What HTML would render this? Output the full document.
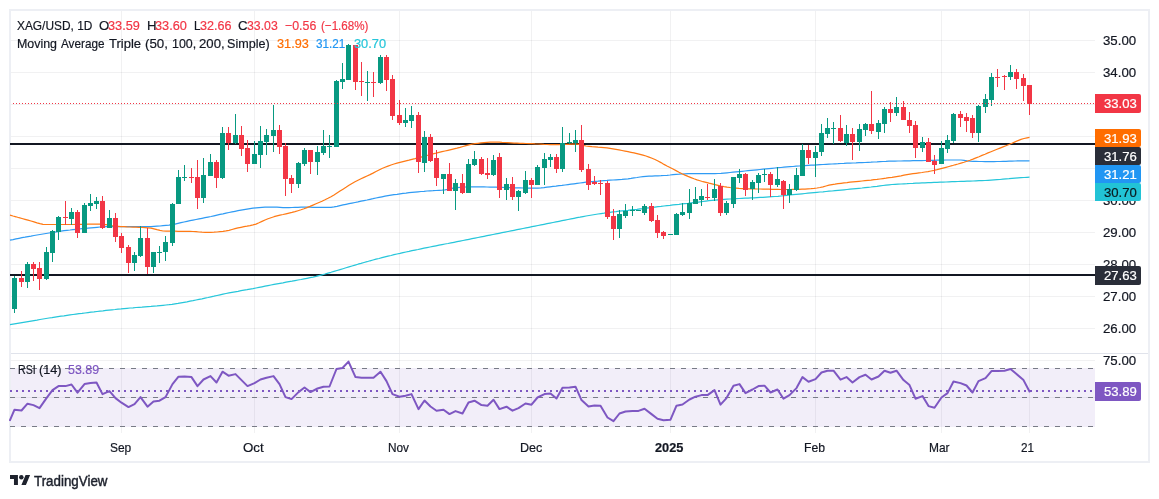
<!DOCTYPE html>
<html><head><meta charset="utf-8"><title>XAG/USD chart</title>
<style>
html,body{margin:0;padding:0;background:#fff}
body{width:1159px;height:499px;position:relative;overflow:hidden;font-family:"Liberation Sans",sans-serif;color:#131722}
#frame{position:absolute;left:9px;top:9px;width:1137px;height:450px;border:2px solid #edeff4}
svg{position:absolute;left:0;top:0}
.bx{position:absolute;left:1095px;width:46px;border-radius:0 2px 2px 0}
.t{position:absolute;display:block;font-size:13px;line-height:20px;white-space:pre;transform-origin:0 0;-webkit-text-stroke:0.2px currentColor}
</style></head><body>
<div id="frame"></div>
<svg width="1159" height="499" viewBox="0 0 1159 499">
<g shape-rendering="crispEdges">
<rect x="121" y="11" width="1" height="342" fill="#2a2e39" fill-opacity="0.065"/>
<rect x="254" y="11" width="1" height="342" fill="#2a2e39" fill-opacity="0.065"/>
<rect x="399" y="11" width="1" height="342" fill="#2a2e39" fill-opacity="0.065"/>
<rect x="531" y="11" width="1" height="342" fill="#2a2e39" fill-opacity="0.065"/>
<rect x="670" y="11" width="1" height="342" fill="#2a2e39" fill-opacity="0.065"/>
<rect x="815" y="11" width="1" height="342" fill="#2a2e39" fill-opacity="0.065"/>
<rect x="941" y="11" width="1" height="342" fill="#2a2e39" fill-opacity="0.065"/>
<rect x="1029" y="11" width="1" height="342" fill="#2a2e39" fill-opacity="0.065"/>
<rect x="11" y="40" width="1084" height="1" fill="#2a2e39" fill-opacity="0.065"/>
<rect x="11" y="72" width="1084" height="1" fill="#2a2e39" fill-opacity="0.065"/>
<rect x="11" y="104" width="1084" height="1" fill="#2a2e39" fill-opacity="0.065"/>
<rect x="11" y="136" width="1084" height="1" fill="#2a2e39" fill-opacity="0.065"/>
<rect x="11" y="168" width="1084" height="1" fill="#2a2e39" fill-opacity="0.065"/>
<rect x="11" y="200" width="1084" height="1" fill="#2a2e39" fill-opacity="0.065"/>
<rect x="11" y="232" width="1084" height="1" fill="#2a2e39" fill-opacity="0.065"/>
<rect x="11" y="264" width="1084" height="1" fill="#2a2e39" fill-opacity="0.065"/>
<rect x="11" y="296" width="1084" height="1" fill="#2a2e39" fill-opacity="0.065"/>
<rect x="11" y="328" width="1084" height="1" fill="#2a2e39" fill-opacity="0.065"/>
<rect x="121" y="354" width="1" height="79" fill="#2a2e39" fill-opacity="0.065"/>
<rect x="254" y="354" width="1" height="79" fill="#2a2e39" fill-opacity="0.065"/>
<rect x="399" y="354" width="1" height="79" fill="#2a2e39" fill-opacity="0.065"/>
<rect x="531" y="354" width="1" height="79" fill="#2a2e39" fill-opacity="0.065"/>
<rect x="670" y="354" width="1" height="79" fill="#2a2e39" fill-opacity="0.065"/>
<rect x="815" y="354" width="1" height="79" fill="#2a2e39" fill-opacity="0.065"/>
<rect x="941" y="354" width="1" height="79" fill="#2a2e39" fill-opacity="0.065"/>
<rect x="1029" y="354" width="1" height="79" fill="#2a2e39" fill-opacity="0.065"/>
<rect x="11" y="360" width="1084" height="1" fill="#2a2e39" fill-opacity="0.065"/>
<rect x="11" y="397" width="1084" height="1" fill="#2a2e39" fill-opacity="0.065"/>
<rect x="11" y="368" width="1084" height="59" fill="#7e57c2" fill-opacity="0.1"/>
<rect x="11" y="353" width="1137" height="1" fill="#e0e3eb"/>
</g>
<line x1="10" y1="368.5" x2="1095" y2="368.5" stroke="#787b86" stroke-width="1" stroke-dasharray="5 6" shape-rendering="crispEdges"/>
<line x1="10" y1="397.5" x2="1095" y2="397.5" stroke="#787b86" stroke-width="1" stroke-dasharray="5 6" shape-rendering="crispEdges"/>
<line x1="10" y1="426.5" x2="1095" y2="426.5" stroke="#787b86" stroke-width="1" stroke-dasharray="5 6" shape-rendering="crispEdges"/>
<rect x="10" y="143" width="1085" height="2" fill="#131722" shape-rendering="crispEdges"/>
<rect x="10" y="274" width="1085" height="2" fill="#131722" shape-rendering="crispEdges"/>
<path d="M10.0 324.6 L13.0 324.1 L16.0 323.6 L19.0 323.1 L22.0 322.6 L25.0 322.1 L28.0 321.6 L31.0 321.1 L34.0 320.6 L37.0 320.1 L40.0 319.5 L43.0 319.0 L46.0 318.5 L49.0 318.0 L52.0 317.6 L55.0 317.1 L58.0 316.6 L61.0 316.2 L64.0 315.8 L67.0 315.3 L70.0 314.9 L73.0 314.5 L76.0 314.1 L79.0 313.7 L82.0 313.4 L85.0 313.0 L88.0 312.6 L91.0 312.2 L94.0 311.9 L97.0 311.5 L100.0 311.1 L103.0 310.8 L106.0 310.4 L109.0 310.1 L112.0 309.8 L115.0 309.5 L118.0 309.1 L121.0 308.9 L124.0 308.6 L127.0 308.3 L130.0 308.0 L133.0 307.8 L136.0 307.5 L139.0 307.3 L142.0 307.1 L145.0 306.8 L148.0 306.6 L151.0 306.4 L154.0 306.1 L157.0 305.9 L160.0 305.6 L163.0 305.3 L166.0 305.0 L169.0 304.7 L172.0 304.3 L175.0 303.8 L178.0 303.4 L181.0 302.8 L184.0 302.3 L187.0 301.8 L190.0 301.2 L193.0 300.7 L196.0 300.0 L199.0 299.4 L202.0 298.8 L205.0 298.1 L208.0 297.5 L211.0 296.8 L214.0 296.2 L217.0 295.5 L220.0 294.8 L223.0 294.1 L226.0 293.5 L229.0 292.9 L232.0 292.3 L235.0 291.8 L238.0 291.3 L241.0 290.7 L244.0 290.2 L247.0 289.7 L250.0 289.1 L253.0 288.6 L256.0 288.0 L259.0 287.4 L262.0 286.8 L265.0 286.2 L268.0 285.6 L271.0 285.0 L274.0 284.4 L277.0 283.8 L280.0 283.3 L283.0 282.8 L286.0 282.2 L289.0 281.7 L292.0 281.2 L295.0 280.6 L298.0 280.0 L301.0 279.5 L304.0 278.9 L307.0 278.3 L310.0 277.7 L313.0 277.1 L316.0 276.4 L319.0 275.6 L322.0 274.8 L325.0 274.0 L328.0 273.1 L331.0 272.3 L334.0 271.4 L337.0 270.5 L340.0 269.6 L343.0 268.7 L346.0 267.8 L349.0 266.9 L352.0 266.0 L355.0 265.1 L358.0 264.2 L361.0 263.4 L364.0 262.5 L367.0 261.7 L370.0 260.8 L373.0 260.0 L376.0 259.2 L379.0 258.5 L382.0 257.7 L385.0 256.9 L388.0 256.2 L391.0 255.5 L394.0 254.7 L397.0 254.0 L400.0 253.4 L403.0 252.7 L406.0 252.0 L409.0 251.4 L412.0 250.7 L415.0 250.1 L418.0 249.5 L421.0 248.8 L424.0 248.2 L427.0 247.6 L430.0 247.0 L433.0 246.4 L436.0 245.8 L439.0 245.2 L442.0 244.6 L445.0 244.0 L448.0 243.5 L451.0 242.9 L454.0 242.3 L457.0 241.7 L460.0 241.1 L463.0 240.5 L466.0 239.9 L469.0 239.3 L472.0 238.7 L475.0 238.1 L478.0 237.5 L481.0 236.9 L484.0 236.3 L487.0 235.7 L490.0 235.1 L493.0 234.5 L496.0 233.9 L499.0 233.3 L502.0 232.7 L505.0 232.1 L508.0 231.5 L511.0 230.9 L514.0 230.3 L517.0 229.7 L520.0 229.1 L523.0 228.5 L526.0 227.9 L529.0 227.3 L532.0 226.7 L535.0 226.1 L538.0 225.5 L541.0 224.9 L544.0 224.3 L547.0 223.7 L550.0 223.1 L553.0 222.5 L556.0 221.9 L559.0 221.3 L562.0 220.7 L565.0 220.1 L568.0 219.5 L571.0 218.9 L574.0 218.3 L577.0 217.7 L580.0 217.2 L583.0 216.6 L586.0 216.0 L589.0 215.5 L592.0 215.0 L595.0 214.5 L598.0 214.0 L601.0 213.6 L604.0 213.2 L607.0 212.7 L610.0 212.3 L613.0 211.9 L616.0 211.6 L619.0 211.2 L622.0 210.9 L625.0 210.6 L628.0 210.3 L631.0 209.9 L634.0 209.6 L637.0 209.3 L640.0 208.9 L643.0 208.6 L646.0 208.2 L649.0 207.8 L652.0 207.5 L655.0 207.1 L658.0 206.7 L661.0 206.4 L664.0 206.0 L667.0 205.6 L670.0 205.3 L673.0 204.9 L676.0 204.6 L679.0 204.3 L682.0 203.9 L685.0 203.6 L688.0 203.3 L691.0 202.9 L694.0 202.6 L697.0 202.3 L700.0 201.9 L703.0 201.5 L706.0 201.1 L709.0 200.7 L712.0 200.4 L715.0 200.1 L718.0 199.8 L721.0 199.6 L724.0 199.4 L727.0 199.2 L730.0 199.0 L733.0 198.8 L736.0 198.6 L739.0 198.5 L742.0 198.3 L745.0 198.2 L748.0 198.1 L751.0 197.9 L754.0 197.8 L757.0 197.6 L760.0 197.4 L763.0 197.3 L766.0 197.1 L769.0 196.9 L772.0 196.7 L775.0 196.5 L778.0 196.3 L781.0 196.0 L784.0 195.7 L787.0 195.3 L790.0 195.0 L793.0 194.7 L796.0 194.4 L799.0 194.1 L802.0 193.8 L805.0 193.5 L808.0 193.2 L811.0 192.9 L814.0 192.6 L817.0 192.3 L820.0 192.0 L823.0 191.8 L826.0 191.5 L829.0 191.2 L832.0 191.0 L835.0 190.7 L838.0 190.4 L841.0 190.1 L844.0 189.8 L847.0 189.5 L850.0 189.2 L853.0 188.9 L856.0 188.6 L859.0 188.3 L862.0 188.0 L865.0 187.6 L868.0 187.3 L871.0 187.0 L874.0 186.6 L877.0 186.3 L880.0 185.9 L883.0 185.5 L886.0 185.1 L889.0 184.8 L892.0 184.5 L895.0 184.3 L898.0 184.1 L901.0 184.0 L904.0 183.8 L907.0 183.7 L910.0 183.5 L913.0 183.4 L916.0 183.2 L919.0 183.1 L922.0 182.9 L925.0 182.8 L928.0 182.7 L931.0 182.6 L934.0 182.4 L937.0 182.3 L940.0 182.2 L943.0 182.1 L946.0 182.0 L949.0 181.8 L952.0 181.7 L955.0 181.6 L958.0 181.5 L961.0 181.4 L964.0 181.3 L967.0 181.2 L970.0 181.1 L973.0 181.0 L976.0 180.8 L979.0 180.7 L982.0 180.6 L985.0 180.5 L988.0 180.3 L991.0 180.1 L994.0 179.9 L997.0 179.7 L1000.0 179.5 L1003.0 179.2 L1006.0 178.9 L1009.0 178.7 L1012.0 178.4 L1015.0 178.1 L1018.0 177.9 L1021.0 177.7 L1024.0 177.5 L1027.0 177.3 L1029.5 177.2" fill="none" stroke="#26c6da" stroke-width="1.2" stroke-linejoin="round"/>
<path d="M10.0 240.2 L13.0 239.6 L16.0 238.9 L19.0 238.3 L22.0 237.7 L25.0 237.2 L28.0 236.6 L31.0 236.1 L34.0 235.5 L37.0 235.0 L40.0 234.5 L43.0 234.0 L46.0 233.5 L49.0 233.0 L52.0 232.6 L55.0 232.1 L58.0 231.6 L61.0 231.1 L64.0 230.7 L67.0 230.3 L70.0 230.0 L73.0 229.6 L76.0 229.3 L79.0 229.0 L82.0 228.7 L85.0 228.5 L88.0 228.2 L91.0 227.9 L94.0 227.6 L97.0 227.3 L100.0 227.0 L103.0 226.8 L106.0 226.6 L109.0 226.6 L112.0 226.6 L115.0 226.6 L118.0 226.6 L121.0 226.6 L124.0 226.6 L127.0 226.6 L130.0 226.6 L133.0 226.6 L136.0 226.6 L139.0 226.6 L142.0 226.6 L145.0 226.6 L148.0 226.6 L151.0 226.6 L154.0 226.4 L157.0 226.2 L160.0 226.0 L163.0 225.7 L166.0 225.4 L169.0 225.1 L172.0 224.6 L175.0 224.1 L178.0 223.4 L181.0 222.7 L184.0 222.0 L187.0 221.3 L190.0 220.7 L193.0 220.1 L196.0 219.5 L199.0 218.9 L202.0 218.3 L205.0 217.7 L208.0 217.1 L211.0 216.5 L214.0 215.8 L217.0 215.1 L220.0 214.4 L223.0 213.8 L226.0 213.1 L229.0 212.5 L232.0 211.9 L235.0 211.3 L238.0 210.7 L241.0 210.1 L244.0 209.6 L247.0 209.1 L250.0 208.6 L253.0 208.2 L256.0 207.9 L259.0 207.6 L262.0 207.4 L265.0 207.2 L268.0 207.1 L271.0 207.0 L274.0 207.1 L277.0 207.2 L280.0 207.4 L283.0 207.6 L286.0 207.6 L289.0 207.6 L292.0 207.5 L295.0 207.4 L298.0 207.3 L301.0 207.2 L304.0 207.2 L307.0 207.2 L310.0 207.2 L313.0 207.3 L316.0 207.3 L319.0 207.3 L322.0 207.4 L325.0 207.4 L328.0 207.4 L331.0 207.3 L334.0 206.9 L337.0 206.3 L340.0 205.6 L343.0 204.9 L346.0 204.3 L349.0 203.7 L352.0 203.1 L355.0 202.5 L358.0 201.9 L361.0 201.2 L364.0 200.6 L367.0 200.0 L370.0 199.3 L373.0 198.7 L376.0 198.0 L379.0 197.4 L382.0 196.8 L385.0 196.2 L388.0 195.7 L391.0 195.2 L394.0 194.7 L397.0 194.3 L400.0 193.8 L403.0 193.4 L406.0 193.1 L409.0 192.7 L412.0 192.4 L415.0 192.1 L418.0 191.8 L421.0 191.5 L424.0 191.3 L427.0 191.0 L430.0 190.8 L433.0 190.7 L436.0 190.5 L439.0 190.3 L442.0 190.1 L445.0 189.8 L448.0 189.4 L451.0 188.7 L454.0 187.9 L457.0 187.6 L460.0 187.4 L463.0 187.2 L466.0 187.0 L469.0 186.9 L472.0 186.8 L475.0 186.8 L478.0 186.8 L481.0 186.9 L484.0 186.9 L487.0 187.0 L490.0 187.1 L493.0 187.1 L496.0 187.2 L499.0 187.3 L502.0 187.4 L505.0 187.5 L508.0 187.6 L511.0 187.7 L514.0 187.8 L517.0 187.9 L520.0 187.9 L523.0 188.0 L526.0 188.1 L529.0 188.1 L532.0 188.2 L535.0 188.2 L538.0 188.1 L541.0 187.9 L544.0 187.6 L547.0 187.2 L550.0 186.8 L553.0 186.4 L556.0 186.1 L559.0 185.7 L562.0 185.4 L565.0 185.0 L568.0 184.6 L571.0 184.2 L574.0 183.8 L577.0 183.4 L580.0 183.0 L583.0 182.6 L586.0 182.2 L589.0 181.9 L592.0 181.6 L595.0 181.3 L598.0 181.1 L601.0 180.8 L604.0 180.6 L607.0 180.4 L610.0 180.1 L613.0 180.0 L616.0 179.8 L619.0 179.6 L622.0 179.4 L625.0 179.1 L628.0 178.8 L631.0 178.4 L634.0 177.9 L637.0 177.5 L640.0 177.0 L643.0 176.7 L646.0 176.4 L649.0 176.2 L652.0 176.1 L655.0 175.9 L658.0 175.8 L661.0 175.7 L664.0 175.5 L667.0 175.3 L670.0 175.0 L673.0 174.6 L676.0 174.3 L679.0 174.2 L682.0 174.0 L685.0 173.8 L688.0 173.7 L691.0 173.6 L694.0 173.6 L697.0 173.6 L700.0 173.6 L703.0 173.6 L706.0 173.6 L709.0 173.6 L712.0 173.6 L715.0 173.6 L718.0 173.5 L721.0 173.4 L724.0 173.1 L727.0 172.8 L730.0 172.5 L733.0 172.2 L736.0 171.9 L739.0 171.6 L742.0 171.3 L745.0 171.0 L748.0 170.7 L751.0 170.4 L754.0 170.1 L757.0 169.8 L760.0 169.5 L763.0 169.2 L766.0 168.9 L769.0 168.6 L772.0 168.3 L775.0 168.0 L778.0 167.7 L781.0 167.5 L784.0 167.2 L787.0 166.9 L790.0 166.7 L793.0 166.5 L796.0 166.2 L799.0 166.0 L802.0 165.8 L805.0 165.6 L808.0 165.4 L811.0 165.2 L814.0 165.1 L817.0 164.9 L820.0 164.7 L823.0 164.5 L826.0 164.3 L829.0 164.1 L832.0 164.0 L835.0 163.8 L838.0 163.7 L841.0 163.5 L844.0 163.4 L847.0 163.2 L850.0 163.1 L853.0 163.0 L856.0 162.9 L859.0 162.7 L862.0 162.6 L865.0 162.5 L868.0 162.3 L871.0 162.2 L874.0 162.0 L877.0 161.9 L880.0 161.7 L883.0 161.5 L886.0 161.4 L889.0 161.2 L892.0 161.1 L895.0 161.1 L898.0 161.0 L901.0 161.0 L904.0 160.9 L907.0 160.9 L910.0 160.8 L913.0 160.7 L916.0 160.7 L919.0 160.6 L922.0 160.6 L925.0 160.5 L928.0 160.4 L931.0 160.4 L934.0 160.3 L937.0 160.2 L940.0 160.2 L943.0 160.1 L946.0 160.0 L949.0 160.0 L952.0 160.0 L955.0 160.0 L958.0 160.0 L961.0 160.0 L964.0 160.4 L967.0 160.9 L970.0 161.2 L973.0 161.3 L976.0 161.4 L979.0 161.5 L982.0 161.5 L985.0 161.6 L988.0 161.6 L991.0 161.6 L994.0 161.6 L997.0 161.5 L1000.0 161.5 L1003.0 161.4 L1006.0 161.3 L1009.0 161.2 L1012.0 161.1 L1015.0 161.0 L1018.0 160.9 L1021.0 160.8 L1024.0 160.8 L1027.0 160.8 L1029.5 160.9" fill="none" stroke="#2f9bf4" stroke-width="1.2" stroke-linejoin="round"/>
<path d="M10.0 215.1 L13.0 216.0 L16.0 216.8 L19.0 217.7 L22.0 218.5 L25.0 219.3 L28.0 220.1 L31.0 221.0 L34.0 221.9 L37.0 222.9 L40.0 223.7 L43.0 224.3 L46.0 224.5 L49.0 224.5 L52.0 224.5 L55.0 224.5 L58.0 224.5 L61.0 224.5 L64.0 224.5 L67.0 224.5 L70.0 224.5 L73.0 224.5 L76.0 224.4 L79.0 224.4 L82.0 224.3 L85.0 224.3 L88.0 224.2 L91.0 224.2 L94.0 224.1 L97.0 224.1 L100.0 224.1 L103.0 224.4 L106.0 224.7 L109.0 225.1 L112.0 225.6 L115.0 226.0 L118.0 226.3 L121.0 226.6 L124.0 226.7 L127.0 226.9 L130.0 227.0 L133.0 227.1 L136.0 227.2 L139.0 227.3 L142.0 227.4 L145.0 227.6 L148.0 227.8 L151.0 228.2 L154.0 228.9 L157.0 229.7 L160.0 230.4 L163.0 231.0 L166.0 231.2 L169.0 231.2 L172.0 231.2 L175.0 231.2 L178.0 231.3 L181.0 231.3 L184.0 231.3 L187.0 231.3 L190.0 231.3 L193.0 231.5 L196.0 231.7 L199.0 232.0 L202.0 232.2 L205.0 232.3 L208.0 232.4 L211.0 232.3 L214.0 232.2 L217.0 232.0 L220.0 231.7 L223.0 231.4 L226.0 230.9 L229.0 230.3 L232.0 229.5 L235.0 228.7 L238.0 227.9 L241.0 227.3 L244.0 226.7 L247.0 226.2 L250.0 225.6 L253.0 224.9 L256.0 224.1 L259.0 222.8 L262.0 221.4 L265.0 220.0 L268.0 218.8 L271.0 217.7 L274.0 216.7 L277.0 215.9 L280.0 215.1 L283.0 214.5 L286.0 213.8 L289.0 213.1 L292.0 212.4 L295.0 211.6 L298.0 210.7 L301.0 209.8 L304.0 208.8 L307.0 207.6 L310.0 206.4 L313.0 205.1 L316.0 203.8 L319.0 202.5 L322.0 201.2 L325.0 199.8 L328.0 198.3 L331.0 196.7 L334.0 194.9 L337.0 193.0 L340.0 191.1 L343.0 189.2 L346.0 187.3 L349.0 185.3 L352.0 183.4 L355.0 181.7 L358.0 180.2 L361.0 178.8 L364.0 177.4 L367.0 176.0 L370.0 174.6 L373.0 173.1 L376.0 171.5 L379.0 170.0 L382.0 168.5 L385.0 167.3 L388.0 166.1 L391.0 165.0 L394.0 164.0 L397.0 163.1 L400.0 162.3 L403.0 161.6 L406.0 160.9 L409.0 160.2 L412.0 159.4 L415.0 158.7 L418.0 157.9 L421.0 157.1 L424.0 156.3 L427.0 155.5 L430.0 154.7 L433.0 153.9 L436.0 153.2 L439.0 152.4 L442.0 151.7 L445.0 151.0 L448.0 150.3 L451.0 149.6 L454.0 148.9 L457.0 148.2 L460.0 147.4 L463.0 146.5 L466.0 145.6 L469.0 144.9 L472.0 144.2 L475.0 143.7 L478.0 143.3 L481.0 142.9 L484.0 142.6 L487.0 142.3 L490.0 142.2 L493.0 142.1 L496.0 142.1 L499.0 142.2 L502.0 142.4 L505.0 142.5 L508.0 142.7 L511.0 142.9 L514.0 143.1 L517.0 143.2 L520.0 143.3 L523.0 143.4 L526.0 143.5 L529.0 143.6 L532.0 143.7 L535.0 143.9 L538.0 144.0 L541.0 144.2 L544.0 144.4 L547.0 144.5 L550.0 144.6 L553.0 144.7 L556.0 144.7 L559.0 144.6 L562.0 144.5 L565.0 144.4 L568.0 144.3 L571.0 144.2 L574.0 144.1 L577.0 144.2 L580.0 144.7 L583.0 145.4 L586.0 146.0 L589.0 146.3 L592.0 146.6 L595.0 146.8 L598.0 147.1 L601.0 147.3 L604.0 147.6 L607.0 147.9 L610.0 148.4 L613.0 148.9 L616.0 149.4 L619.0 149.9 L622.0 150.5 L625.0 151.1 L628.0 151.7 L631.0 152.3 L634.0 152.9 L637.0 153.6 L640.0 154.3 L643.0 155.1 L646.0 156.0 L649.0 157.1 L652.0 158.2 L655.0 159.5 L658.0 161.0 L661.0 162.6 L664.0 164.4 L667.0 166.0 L670.0 167.5 L673.0 169.0 L676.0 170.6 L679.0 172.2 L682.0 173.7 L685.0 175.1 L688.0 176.4 L691.0 177.6 L694.0 178.8 L697.0 179.9 L700.0 180.8 L703.0 181.7 L706.0 182.4 L709.0 183.2 L712.0 183.9 L715.0 184.6 L718.0 185.3 L721.0 186.0 L724.0 186.6 L727.0 187.1 L730.0 187.5 L733.0 187.8 L736.0 188.1 L739.0 188.4 L742.0 188.6 L745.0 188.7 L748.0 188.8 L751.0 188.9 L754.0 188.9 L757.0 189.0 L760.0 189.0 L763.0 189.1 L766.0 189.1 L769.0 189.2 L772.0 189.3 L775.0 189.3 L778.0 189.4 L781.0 189.5 L784.0 189.5 L787.0 189.5 L790.0 189.5 L793.0 189.4 L796.0 189.4 L799.0 189.3 L802.0 189.2 L805.0 189.1 L808.0 188.9 L811.0 188.7 L814.0 188.4 L817.0 188.0 L820.0 187.5 L823.0 186.8 L826.0 186.0 L829.0 185.2 L832.0 184.6 L835.0 184.2 L838.0 183.7 L841.0 183.3 L844.0 182.9 L847.0 182.6 L850.0 182.2 L853.0 181.9 L856.0 181.6 L859.0 181.3 L862.0 181.0 L865.0 180.7 L868.0 180.4 L871.0 180.1 L874.0 179.7 L877.0 179.4 L880.0 179.0 L883.0 178.6 L886.0 178.2 L889.0 177.7 L892.0 177.3 L895.0 176.8 L898.0 176.3 L901.0 175.8 L904.0 175.2 L907.0 174.7 L910.0 174.2 L913.0 173.7 L916.0 173.3 L919.0 172.9 L922.0 172.5 L925.0 172.0 L928.0 171.6 L931.0 171.0 L934.0 170.4 L937.0 169.7 L940.0 168.9 L943.0 168.1 L946.0 167.3 L949.0 166.5 L952.0 165.7 L955.0 164.8 L958.0 164.0 L961.0 163.1 L964.0 162.2 L967.0 161.2 L970.0 160.2 L973.0 159.1 L976.0 157.9 L979.0 156.7 L982.0 155.4 L985.0 154.2 L988.0 152.9 L991.0 151.7 L994.0 150.5 L997.0 149.3 L1000.0 148.1 L1003.0 146.9 L1006.0 145.7 L1009.0 144.5 L1012.0 143.2 L1015.0 141.9 L1018.0 140.6 L1021.0 139.4 L1024.0 138.5 L1027.0 137.8 L1029.5 137.3" fill="none" stroke="#ff7a14" stroke-width="1.2" stroke-linejoin="round"/>
<g shape-rendering="crispEdges">
<rect x="14" y="276" width="1" height="37" fill="#089981"/>
<rect x="12" y="278" width="5" height="31" fill="#089981"/>
<rect x="21" y="271" width="1" height="16" fill="#F23645"/>
<rect x="19" y="278" width="5" height="4" fill="#F23645"/>
<rect x="27" y="262" width="1" height="26" fill="#089981"/>
<rect x="25" y="264" width="5" height="18" fill="#089981"/>
<rect x="33" y="262" width="1" height="19" fill="#F23645"/>
<rect x="31" y="264" width="5" height="5" fill="#F23645"/>
<rect x="39" y="262" width="1" height="28" fill="#F23645"/>
<rect x="37" y="268" width="5" height="11" fill="#F23645"/>
<rect x="46" y="247" width="1" height="33" fill="#089981"/>
<rect x="44" y="252" width="5" height="27" fill="#089981"/>
<rect x="52" y="230" width="1" height="32" fill="#089981"/>
<rect x="50" y="231" width="5" height="22" fill="#089981"/>
<rect x="58" y="216" width="1" height="24" fill="#089981"/>
<rect x="56" y="217" width="5" height="15" fill="#089981"/>
<rect x="65" y="201" width="1" height="24" fill="#F23645"/>
<rect x="63" y="217" width="5" height="1" fill="#F23645"/>
<rect x="71" y="208" width="1" height="17" fill="#089981"/>
<rect x="69" y="212" width="5" height="7" fill="#089981"/>
<rect x="77" y="210" width="1" height="28" fill="#F23645"/>
<rect x="75" y="212" width="5" height="21" fill="#F23645"/>
<rect x="84" y="203" width="1" height="30" fill="#089981"/>
<rect x="82" y="205" width="5" height="28" fill="#089981"/>
<rect x="90" y="194" width="1" height="17" fill="#089981"/>
<rect x="88" y="203" width="5" height="3" fill="#089981"/>
<rect x="96" y="197" width="1" height="12" fill="#089981"/>
<rect x="94" y="201" width="5" height="3" fill="#089981"/>
<rect x="102" y="196" width="1" height="33" fill="#F23645"/>
<rect x="100" y="201" width="5" height="27" fill="#F23645"/>
<rect x="109" y="210" width="1" height="18" fill="#089981"/>
<rect x="107" y="218" width="5" height="10" fill="#089981"/>
<rect x="115" y="213" width="1" height="29" fill="#F23645"/>
<rect x="113" y="218" width="5" height="19" fill="#F23645"/>
<rect x="121" y="233" width="1" height="20" fill="#F23645"/>
<rect x="119" y="236" width="5" height="12" fill="#F23645"/>
<rect x="128" y="245" width="1" height="28" fill="#F23645"/>
<rect x="126" y="247" width="5" height="16" fill="#F23645"/>
<rect x="134" y="252" width="1" height="19" fill="#089981"/>
<rect x="132" y="255" width="5" height="8" fill="#089981"/>
<rect x="140" y="226" width="1" height="31" fill="#089981"/>
<rect x="138" y="238" width="5" height="18" fill="#089981"/>
<rect x="147" y="228" width="1" height="46" fill="#F23645"/>
<rect x="145" y="238" width="5" height="29" fill="#F23645"/>
<rect x="153" y="252" width="1" height="21" fill="#089981"/>
<rect x="151" y="252" width="5" height="15" fill="#089981"/>
<rect x="159" y="246" width="1" height="17" fill="#089981"/>
<rect x="157" y="252" width="5" height="1" fill="#089981"/>
<rect x="165" y="236" width="1" height="25" fill="#089981"/>
<rect x="163" y="242" width="5" height="10" fill="#089981"/>
<rect x="172" y="203" width="1" height="43" fill="#089981"/>
<rect x="170" y="204" width="5" height="39" fill="#089981"/>
<rect x="178" y="170" width="1" height="34" fill="#089981"/>
<rect x="176" y="177" width="5" height="27" fill="#089981"/>
<rect x="184" y="165" width="1" height="16" fill="#089981"/>
<rect x="182" y="177" width="5" height="1" fill="#089981"/>
<rect x="191" y="168" width="1" height="15" fill="#F23645"/>
<rect x="189" y="177" width="5" height="1" fill="#F23645"/>
<rect x="197" y="160" width="1" height="49" fill="#F23645"/>
<rect x="195" y="177" width="5" height="21" fill="#F23645"/>
<rect x="203" y="158" width="1" height="45" fill="#089981"/>
<rect x="201" y="175" width="5" height="23" fill="#089981"/>
<rect x="210" y="154" width="1" height="22" fill="#089981"/>
<rect x="208" y="162" width="5" height="14" fill="#089981"/>
<rect x="216" y="160" width="1" height="28" fill="#F23645"/>
<rect x="214" y="162" width="5" height="16" fill="#F23645"/>
<rect x="222" y="127" width="1" height="52" fill="#089981"/>
<rect x="220" y="133" width="5" height="45" fill="#089981"/>
<rect x="228" y="127" width="1" height="23" fill="#F23645"/>
<rect x="226" y="133" width="5" height="10" fill="#F23645"/>
<rect x="235" y="114" width="1" height="30" fill="#089981"/>
<rect x="233" y="135" width="5" height="8" fill="#089981"/>
<rect x="241" y="126" width="1" height="30" fill="#F23645"/>
<rect x="239" y="135" width="5" height="14" fill="#F23645"/>
<rect x="247" y="140" width="1" height="32" fill="#F23645"/>
<rect x="245" y="148" width="5" height="16" fill="#F23645"/>
<rect x="254" y="141" width="1" height="23" fill="#089981"/>
<rect x="252" y="154" width="5" height="10" fill="#089981"/>
<rect x="260" y="126" width="1" height="42" fill="#089981"/>
<rect x="258" y="141" width="5" height="14" fill="#089981"/>
<rect x="266" y="129" width="1" height="26" fill="#089981"/>
<rect x="264" y="135" width="5" height="7" fill="#089981"/>
<rect x="273" y="105" width="1" height="47" fill="#089981"/>
<rect x="271" y="130" width="5" height="6" fill="#089981"/>
<rect x="279" y="125" width="1" height="29" fill="#F23645"/>
<rect x="277" y="130" width="5" height="17" fill="#F23645"/>
<rect x="285" y="143" width="1" height="53" fill="#F23645"/>
<rect x="283" y="146" width="5" height="33" fill="#F23645"/>
<rect x="291" y="175" width="1" height="18" fill="#F23645"/>
<rect x="289" y="178" width="5" height="6" fill="#F23645"/>
<rect x="298" y="162" width="1" height="26" fill="#089981"/>
<rect x="296" y="163" width="5" height="21" fill="#089981"/>
<rect x="304" y="148" width="1" height="18" fill="#089981"/>
<rect x="302" y="150" width="5" height="14" fill="#089981"/>
<rect x="310" y="150" width="1" height="24" fill="#F23645"/>
<rect x="308" y="150" width="5" height="12" fill="#F23645"/>
<rect x="317" y="146" width="1" height="29" fill="#089981"/>
<rect x="315" y="152" width="5" height="10" fill="#089981"/>
<rect x="323" y="130" width="1" height="25" fill="#089981"/>
<rect x="321" y="146" width="5" height="7" fill="#089981"/>
<rect x="329" y="135" width="1" height="23" fill="#089981"/>
<rect x="327" y="146" width="5" height="1" fill="#089981"/>
<rect x="336" y="80" width="1" height="67" fill="#089981"/>
<rect x="334" y="81" width="5" height="66" fill="#089981"/>
<rect x="342" y="63" width="1" height="26" fill="#089981"/>
<rect x="340" y="79" width="5" height="3" fill="#089981"/>
<rect x="348" y="44" width="1" height="36" fill="#089981"/>
<rect x="346" y="45" width="5" height="35" fill="#089981"/>
<rect x="355" y="45" width="1" height="45" fill="#F23645"/>
<rect x="353" y="45" width="5" height="37" fill="#F23645"/>
<rect x="361" y="62" width="1" height="34" fill="#F23645"/>
<rect x="359" y="81" width="5" height="1" fill="#F23645"/>
<rect x="367" y="71" width="1" height="30" fill="#089981"/>
<rect x="365" y="82" width="5" height="1" fill="#089981"/>
<rect x="373" y="72" width="1" height="25" fill="#F23645"/>
<rect x="371" y="82" width="5" height="1" fill="#F23645"/>
<rect x="380" y="55" width="1" height="29" fill="#089981"/>
<rect x="378" y="57" width="5" height="26" fill="#089981"/>
<rect x="386" y="55" width="1" height="36" fill="#F23645"/>
<rect x="384" y="57" width="5" height="23" fill="#F23645"/>
<rect x="392" y="75" width="1" height="45" fill="#F23645"/>
<rect x="390" y="79" width="5" height="37" fill="#F23645"/>
<rect x="399" y="100" width="1" height="25" fill="#F23645"/>
<rect x="397" y="115" width="5" height="8" fill="#F23645"/>
<rect x="405" y="108" width="1" height="19" fill="#089981"/>
<rect x="403" y="120" width="5" height="3" fill="#089981"/>
<rect x="411" y="106" width="1" height="22" fill="#089981"/>
<rect x="409" y="115" width="5" height="6" fill="#089981"/>
<rect x="418" y="112" width="1" height="61" fill="#F23645"/>
<rect x="416" y="115" width="5" height="47" fill="#F23645"/>
<rect x="424" y="131" width="1" height="41" fill="#089981"/>
<rect x="422" y="137" width="5" height="26" fill="#089981"/>
<rect x="430" y="134" width="1" height="28" fill="#F23645"/>
<rect x="428" y="137" width="5" height="24" fill="#F23645"/>
<rect x="436" y="150" width="1" height="36" fill="#F23645"/>
<rect x="434" y="158" width="5" height="20" fill="#F23645"/>
<rect x="443" y="174" width="1" height="20" fill="#089981"/>
<rect x="441" y="174" width="5" height="5" fill="#089981"/>
<rect x="449" y="163" width="1" height="28" fill="#F23645"/>
<rect x="447" y="174" width="5" height="17" fill="#F23645"/>
<rect x="455" y="179" width="1" height="31" fill="#089981"/>
<rect x="453" y="183" width="5" height="8" fill="#089981"/>
<rect x="462" y="174" width="1" height="20" fill="#F23645"/>
<rect x="460" y="183" width="5" height="10" fill="#F23645"/>
<rect x="468" y="159" width="1" height="34" fill="#089981"/>
<rect x="466" y="164" width="5" height="29" fill="#089981"/>
<rect x="474" y="151" width="1" height="15" fill="#089981"/>
<rect x="472" y="159" width="5" height="6" fill="#089981"/>
<rect x="481" y="157" width="1" height="18" fill="#F23645"/>
<rect x="479" y="159" width="5" height="15" fill="#F23645"/>
<rect x="487" y="158" width="1" height="21" fill="#F23645"/>
<rect x="485" y="173" width="5" height="2" fill="#F23645"/>
<rect x="493" y="155" width="1" height="21" fill="#089981"/>
<rect x="491" y="160" width="5" height="15" fill="#089981"/>
<rect x="499" y="153" width="1" height="45" fill="#F23645"/>
<rect x="497" y="157" width="5" height="33" fill="#F23645"/>
<rect x="506" y="178" width="1" height="22" fill="#089981"/>
<rect x="504" y="184" width="5" height="6" fill="#089981"/>
<rect x="512" y="177" width="1" height="23" fill="#F23645"/>
<rect x="510" y="184" width="5" height="13" fill="#F23645"/>
<rect x="518" y="190" width="1" height="21" fill="#089981"/>
<rect x="516" y="191" width="5" height="6" fill="#089981"/>
<rect x="525" y="171" width="1" height="23" fill="#089981"/>
<rect x="523" y="180" width="5" height="13" fill="#089981"/>
<rect x="531" y="178" width="1" height="20" fill="#F23645"/>
<rect x="529" y="180" width="5" height="5" fill="#F23645"/>
<rect x="537" y="165" width="1" height="20" fill="#089981"/>
<rect x="535" y="167" width="5" height="18" fill="#089981"/>
<rect x="544" y="153" width="1" height="32" fill="#089981"/>
<rect x="542" y="159" width="5" height="9" fill="#089981"/>
<rect x="550" y="154" width="1" height="13" fill="#089981"/>
<rect x="548" y="157" width="5" height="3" fill="#089981"/>
<rect x="556" y="154" width="1" height="19" fill="#F23645"/>
<rect x="554" y="157" width="5" height="12" fill="#F23645"/>
<rect x="562" y="127" width="1" height="45" fill="#089981"/>
<rect x="560" y="143" width="5" height="26" fill="#089981"/>
<rect x="569" y="133" width="1" height="11" fill="#089981"/>
<rect x="567" y="142" width="5" height="1" fill="#089981"/>
<rect x="575" y="130" width="1" height="22" fill="#089981"/>
<rect x="573" y="140" width="5" height="3" fill="#089981"/>
<rect x="581" y="125" width="1" height="47" fill="#F23645"/>
<rect x="579" y="140" width="5" height="30" fill="#F23645"/>
<rect x="588" y="164" width="1" height="26" fill="#F23645"/>
<rect x="586" y="169" width="5" height="16" fill="#F23645"/>
<rect x="594" y="176" width="1" height="9" fill="#F23645"/>
<rect x="592" y="182" width="5" height="2" fill="#F23645"/>
<rect x="600" y="180" width="1" height="15" fill="#F23645"/>
<rect x="598" y="183" width="5" height="1" fill="#F23645"/>
<rect x="607" y="181" width="1" height="38" fill="#F23645"/>
<rect x="605" y="183" width="5" height="34" fill="#F23645"/>
<rect x="613" y="209" width="1" height="31" fill="#F23645"/>
<rect x="611" y="216" width="5" height="13" fill="#F23645"/>
<rect x="619" y="210" width="1" height="28" fill="#089981"/>
<rect x="617" y="214" width="5" height="15" fill="#089981"/>
<rect x="625" y="204" width="1" height="14" fill="#089981"/>
<rect x="623" y="211" width="5" height="5" fill="#089981"/>
<rect x="632" y="206" width="1" height="10" fill="#089981"/>
<rect x="630" y="210" width="5" height="1" fill="#089981"/>
<rect x="638" y="210" width="1" height="1" fill="#089981"/>
<rect x="636" y="210" width="5" height="1" fill="#089981"/>
<rect x="644" y="204" width="1" height="11" fill="#089981"/>
<rect x="642" y="206" width="5" height="7" fill="#089981"/>
<rect x="651" y="203" width="1" height="19" fill="#F23645"/>
<rect x="649" y="206" width="5" height="15" fill="#F23645"/>
<rect x="657" y="215" width="1" height="23" fill="#F23645"/>
<rect x="655" y="220" width="5" height="13" fill="#F23645"/>
<rect x="663" y="231" width="1" height="8" fill="#F23645"/>
<rect x="661" y="232" width="5" height="4" fill="#F23645"/>
<rect x="670" y="234" width="1" height="1" fill="#089981"/>
<rect x="668" y="234" width="5" height="1" fill="#089981"/>
<rect x="676" y="213" width="1" height="22" fill="#089981"/>
<rect x="674" y="214" width="5" height="21" fill="#089981"/>
<rect x="682" y="203" width="1" height="13" fill="#089981"/>
<rect x="680" y="212" width="5" height="3" fill="#089981"/>
<rect x="689" y="189" width="1" height="30" fill="#089981"/>
<rect x="687" y="203" width="5" height="10" fill="#089981"/>
<rect x="695" y="187" width="1" height="17" fill="#089981"/>
<rect x="693" y="199" width="5" height="5" fill="#089981"/>
<rect x="701" y="189" width="1" height="17" fill="#089981"/>
<rect x="699" y="196" width="5" height="4" fill="#089981"/>
<rect x="707" y="184" width="1" height="16" fill="#F23645"/>
<rect x="705" y="197" width="5" height="1" fill="#F23645"/>
<rect x="714" y="179" width="1" height="22" fill="#089981"/>
<rect x="712" y="189" width="5" height="9" fill="#089981"/>
<rect x="720" y="183" width="1" height="33" fill="#F23645"/>
<rect x="718" y="186" width="5" height="27" fill="#F23645"/>
<rect x="726" y="201" width="1" height="14" fill="#089981"/>
<rect x="724" y="203" width="5" height="10" fill="#089981"/>
<rect x="733" y="177" width="1" height="31" fill="#089981"/>
<rect x="731" y="177" width="5" height="27" fill="#089981"/>
<rect x="739" y="169" width="1" height="14" fill="#089981"/>
<rect x="737" y="174" width="5" height="4" fill="#089981"/>
<rect x="745" y="173" width="1" height="23" fill="#F23645"/>
<rect x="743" y="174" width="5" height="16" fill="#F23645"/>
<rect x="752" y="180" width="1" height="20" fill="#089981"/>
<rect x="750" y="182" width="5" height="7" fill="#089981"/>
<rect x="758" y="173" width="1" height="20" fill="#089981"/>
<rect x="756" y="175" width="5" height="8" fill="#089981"/>
<rect x="764" y="169" width="1" height="13" fill="#089981"/>
<rect x="762" y="174" width="5" height="1" fill="#089981"/>
<rect x="770" y="172" width="1" height="25" fill="#F23645"/>
<rect x="768" y="174" width="5" height="11" fill="#F23645"/>
<rect x="777" y="167" width="1" height="20" fill="#089981"/>
<rect x="775" y="179" width="5" height="6" fill="#089981"/>
<rect x="783" y="180" width="1" height="29" fill="#F23645"/>
<rect x="781" y="181" width="5" height="14" fill="#F23645"/>
<rect x="789" y="184" width="1" height="19" fill="#089981"/>
<rect x="787" y="189" width="5" height="6" fill="#089981"/>
<rect x="796" y="168" width="1" height="23" fill="#089981"/>
<rect x="794" y="175" width="5" height="15" fill="#089981"/>
<rect x="802" y="144" width="1" height="32" fill="#089981"/>
<rect x="800" y="150" width="5" height="26" fill="#089981"/>
<rect x="808" y="145" width="1" height="19" fill="#F23645"/>
<rect x="806" y="150" width="5" height="8" fill="#F23645"/>
<rect x="815" y="146" width="1" height="31" fill="#089981"/>
<rect x="813" y="152" width="5" height="6" fill="#089981"/>
<rect x="821" y="124" width="1" height="32" fill="#089981"/>
<rect x="819" y="133" width="5" height="19" fill="#089981"/>
<rect x="827" y="118" width="1" height="20" fill="#089981"/>
<rect x="825" y="128" width="5" height="6" fill="#089981"/>
<rect x="833" y="122" width="1" height="22" fill="#089981"/>
<rect x="831" y="128" width="5" height="1" fill="#089981"/>
<rect x="840" y="115" width="1" height="27" fill="#F23645"/>
<rect x="838" y="128" width="5" height="13" fill="#F23645"/>
<rect x="846" y="125" width="1" height="21" fill="#089981"/>
<rect x="844" y="134" width="5" height="9" fill="#089981"/>
<rect x="852" y="128" width="1" height="32" fill="#F23645"/>
<rect x="850" y="134" width="5" height="8" fill="#F23645"/>
<rect x="859" y="124" width="1" height="27" fill="#089981"/>
<rect x="857" y="129" width="5" height="13" fill="#089981"/>
<rect x="865" y="123" width="1" height="13" fill="#089981"/>
<rect x="863" y="124" width="5" height="6" fill="#089981"/>
<rect x="871" y="91" width="1" height="43" fill="#F23645"/>
<rect x="869" y="124" width="5" height="7" fill="#F23645"/>
<rect x="878" y="120" width="1" height="19" fill="#089981"/>
<rect x="876" y="123" width="5" height="9" fill="#089981"/>
<rect x="884" y="107" width="1" height="26" fill="#089981"/>
<rect x="882" y="109" width="5" height="15" fill="#089981"/>
<rect x="890" y="102" width="1" height="20" fill="#F23645"/>
<rect x="888" y="109" width="5" height="4" fill="#F23645"/>
<rect x="896" y="97" width="1" height="19" fill="#089981"/>
<rect x="894" y="107" width="5" height="6" fill="#089981"/>
<rect x="903" y="101" width="1" height="19" fill="#F23645"/>
<rect x="901" y="107" width="5" height="13" fill="#F23645"/>
<rect x="909" y="112" width="1" height="21" fill="#F23645"/>
<rect x="907" y="120" width="5" height="6" fill="#F23645"/>
<rect x="915" y="121" width="1" height="37" fill="#F23645"/>
<rect x="913" y="125" width="5" height="23" fill="#F23645"/>
<rect x="922" y="137" width="1" height="15" fill="#089981"/>
<rect x="920" y="142" width="5" height="6" fill="#089981"/>
<rect x="928" y="138" width="1" height="24" fill="#F23645"/>
<rect x="926" y="142" width="5" height="20" fill="#F23645"/>
<rect x="934" y="155" width="1" height="19" fill="#F23645"/>
<rect x="932" y="161" width="5" height="4" fill="#F23645"/>
<rect x="941" y="141" width="1" height="23" fill="#089981"/>
<rect x="939" y="148" width="5" height="16" fill="#089981"/>
<rect x="947" y="135" width="1" height="18" fill="#089981"/>
<rect x="945" y="140" width="5" height="9" fill="#089981"/>
<rect x="953" y="113" width="1" height="30" fill="#089981"/>
<rect x="951" y="114" width="5" height="27" fill="#089981"/>
<rect x="960" y="111" width="1" height="16" fill="#F23645"/>
<rect x="958" y="114" width="5" height="4" fill="#F23645"/>
<rect x="966" y="113" width="1" height="19" fill="#F23645"/>
<rect x="964" y="117" width="5" height="4" fill="#F23645"/>
<rect x="972" y="115" width="1" height="23" fill="#F23645"/>
<rect x="970" y="118" width="5" height="15" fill="#F23645"/>
<rect x="978" y="105" width="1" height="37" fill="#089981"/>
<rect x="976" y="106" width="5" height="27" fill="#089981"/>
<rect x="985" y="94" width="1" height="19" fill="#089981"/>
<rect x="983" y="99" width="5" height="8" fill="#089981"/>
<rect x="991" y="73" width="1" height="33" fill="#089981"/>
<rect x="989" y="77" width="5" height="23" fill="#089981"/>
<rect x="997" y="69" width="1" height="18" fill="#F23645"/>
<rect x="995" y="77" width="5" height="1" fill="#F23645"/>
<rect x="1004" y="75" width="1" height="15" fill="#F23645"/>
<rect x="1002" y="76" width="5" height="1" fill="#F23645"/>
<rect x="1010" y="65" width="1" height="15" fill="#089981"/>
<rect x="1008" y="72" width="5" height="5" fill="#089981"/>
<rect x="1016" y="69" width="1" height="20" fill="#F23645"/>
<rect x="1014" y="72" width="5" height="7" fill="#F23645"/>
<rect x="1023" y="74" width="1" height="27" fill="#F23645"/>
<rect x="1021" y="78" width="5" height="8" fill="#F23645"/>
<rect x="1029" y="85" width="1" height="30" fill="#F23645"/>
<rect x="1027" y="85" width="5" height="19" fill="#F23645"/>
<path d="M13 103.5h1M16 103.5h1M19 103.5h1M22 103.5h1M25 103.5h1M28 103.5h1M31 103.5h1M34 103.5h1M37 103.5h1M40 103.5h1M43 103.5h1M46 103.5h1M49 103.5h1M52 103.5h1M55 103.5h1M58 103.5h1M61 103.5h1M64 103.5h1M67 103.5h1M70 103.5h1M73 103.5h1M76 103.5h1M79 103.5h1M82 103.5h1M85 103.5h1M88 103.5h1M91 103.5h1M94 103.5h1M97 103.5h1M100 103.5h1M103 103.5h1M106 103.5h1M109 103.5h1M112 103.5h1M115 103.5h1M118 103.5h1M121 103.5h1M124 103.5h1M127 103.5h1M130 103.5h1M133 103.5h1M136 103.5h1M139 103.5h1M142 103.5h1M145 103.5h1M148 103.5h1M151 103.5h1M154 103.5h1M157 103.5h1M160 103.5h1M163 103.5h1M166 103.5h1M169 103.5h1M172 103.5h1M175 103.5h1M178 103.5h1M181 103.5h1M184 103.5h1M187 103.5h1M190 103.5h1M193 103.5h1M196 103.5h1M199 103.5h1M202 103.5h1M205 103.5h1M208 103.5h1M211 103.5h1M214 103.5h1M217 103.5h1M220 103.5h1M223 103.5h1M226 103.5h1M229 103.5h1M232 103.5h1M235 103.5h1M238 103.5h1M241 103.5h1M244 103.5h1M247 103.5h1M250 103.5h1M253 103.5h1M256 103.5h1M259 103.5h1M262 103.5h1M265 103.5h1M268 103.5h1M271 103.5h1M274 103.5h1M277 103.5h1M280 103.5h1M283 103.5h1M286 103.5h1M289 103.5h1M292 103.5h1M295 103.5h1M298 103.5h1M301 103.5h1M304 103.5h1M307 103.5h1M310 103.5h1M313 103.5h1M316 103.5h1M319 103.5h1M322 103.5h1M325 103.5h1M328 103.5h1M331 103.5h1M334 103.5h1M337 103.5h1M340 103.5h1M343 103.5h1M346 103.5h1M349 103.5h1M352 103.5h1M355 103.5h1M358 103.5h1M361 103.5h1M364 103.5h1M367 103.5h1M370 103.5h1M373 103.5h1M376 103.5h1M379 103.5h1M382 103.5h1M385 103.5h1M388 103.5h1M391 103.5h1M394 103.5h1M397 103.5h1M400 103.5h1M403 103.5h1M406 103.5h1M409 103.5h1M412 103.5h1M415 103.5h1M418 103.5h1M421 103.5h1M424 103.5h1M427 103.5h1M430 103.5h1M433 103.5h1M436 103.5h1M439 103.5h1M442 103.5h1M445 103.5h1M448 103.5h1M451 103.5h1M454 103.5h1M457 103.5h1M460 103.5h1M463 103.5h1M466 103.5h1M469 103.5h1M472 103.5h1M475 103.5h1M478 103.5h1M481 103.5h1M484 103.5h1M487 103.5h1M490 103.5h1M493 103.5h1M496 103.5h1M499 103.5h1M502 103.5h1M505 103.5h1M508 103.5h1M511 103.5h1M514 103.5h1M517 103.5h1M520 103.5h1M523 103.5h1M526 103.5h1M529 103.5h1M532 103.5h1M535 103.5h1M538 103.5h1M541 103.5h1M544 103.5h1M547 103.5h1M550 103.5h1M553 103.5h1M556 103.5h1M559 103.5h1M562 103.5h1M565 103.5h1M568 103.5h1M571 103.5h1M574 103.5h1M577 103.5h1M580 103.5h1M583 103.5h1M586 103.5h1M589 103.5h1M592 103.5h1M595 103.5h1M598 103.5h1M601 103.5h1M604 103.5h1M607 103.5h1M610 103.5h1M613 103.5h1M616 103.5h1M619 103.5h1M622 103.5h1M625 103.5h1M628 103.5h1M631 103.5h1M634 103.5h1M637 103.5h1M640 103.5h1M643 103.5h1M646 103.5h1M649 103.5h1M652 103.5h1M655 103.5h1M658 103.5h1M661 103.5h1M664 103.5h1M667 103.5h1M670 103.5h1M673 103.5h1M676 103.5h1M679 103.5h1M682 103.5h1M685 103.5h1M688 103.5h1M691 103.5h1M694 103.5h1M697 103.5h1M700 103.5h1M703 103.5h1M706 103.5h1M709 103.5h1M712 103.5h1M715 103.5h1M718 103.5h1M721 103.5h1M724 103.5h1M727 103.5h1M730 103.5h1M733 103.5h1M736 103.5h1M739 103.5h1M742 103.5h1M745 103.5h1M748 103.5h1M751 103.5h1M754 103.5h1M757 103.5h1M760 103.5h1M763 103.5h1M766 103.5h1M769 103.5h1M772 103.5h1M775 103.5h1M778 103.5h1M781 103.5h1M784 103.5h1M787 103.5h1M790 103.5h1M793 103.5h1M796 103.5h1M799 103.5h1M802 103.5h1M805 103.5h1M808 103.5h1M811 103.5h1M814 103.5h1M817 103.5h1M820 103.5h1M823 103.5h1M826 103.5h1M829 103.5h1M832 103.5h1M835 103.5h1M838 103.5h1M841 103.5h1M844 103.5h1M847 103.5h1M850 103.5h1M853 103.5h1M856 103.5h1M859 103.5h1M862 103.5h1M865 103.5h1M868 103.5h1M871 103.5h1M874 103.5h1M877 103.5h1M880 103.5h1M883 103.5h1M886 103.5h1M889 103.5h1M892 103.5h1M895 103.5h1M898 103.5h1M901 103.5h1M904 103.5h1M907 103.5h1M910 103.5h1M913 103.5h1M916 103.5h1M919 103.5h1M922 103.5h1M925 103.5h1M928 103.5h1M931 103.5h1M934 103.5h1M937 103.5h1M940 103.5h1M943 103.5h1M946 103.5h1M949 103.5h1M952 103.5h1M955 103.5h1M958 103.5h1M961 103.5h1M964 103.5h1M967 103.5h1M970 103.5h1M973 103.5h1M976 103.5h1M979 103.5h1M982 103.5h1M985 103.5h1M988 103.5h1M991 103.5h1M994 103.5h1M997 103.5h1M1000 103.5h1M1003 103.5h1M1006 103.5h1M1009 103.5h1M1012 103.5h1M1015 103.5h1M1018 103.5h1M1021 103.5h1M1024 103.5h1M1027 103.5h1M1030 103.5h1M1033 103.5h1M1036 103.5h1M1039 103.5h1M1042 103.5h1M1045 103.5h1M1048 103.5h1M1051 103.5h1M1054 103.5h1M1057 103.5h1M1060 103.5h1M1063 103.5h1M1066 103.5h1M1069 103.5h1M1072 103.5h1M1075 103.5h1M1078 103.5h1M1081 103.5h1M1084 103.5h1M1087 103.5h1M1090 103.5h1M1093 103.5h1" stroke="#F23645" stroke-width="1" fill="none"/>
<path d="M10 391h2M16 391h2M22 391h2M28 391h2M34 391h2M40 391h2M46 391h2M52 391h2M58 391h2M64 391h2M70 391h2M76 391h2M82 391h2M88 391h2M94 391h2M100 391h2M106 391h2M112 391h2M118 391h2M124 391h2M130 391h2M136 391h2M142 391h2M148 391h2M154 391h2M160 391h2M166 391h2M172 391h2M178 391h2M184 391h2M190 391h2M196 391h2M202 391h2M208 391h2M214 391h2M220 391h2M226 391h2M232 391h2M238 391h2M244 391h2M250 391h2M256 391h2M262 391h2M268 391h2M274 391h2M280 391h2M286 391h2M292 391h2M298 391h2M304 391h2M310 391h2M316 391h2M322 391h2M328 391h2M334 391h2M340 391h2M346 391h2M352 391h2M358 391h2M364 391h2M370 391h2M376 391h2M382 391h2M388 391h2M394 391h2M400 391h2M406 391h2M412 391h2M418 391h2M424 391h2M430 391h2M436 391h2M442 391h2M448 391h2M454 391h2M460 391h2M466 391h2M472 391h2M478 391h2M484 391h2M490 391h2M496 391h2M502 391h2M508 391h2M514 391h2M520 391h2M526 391h2M532 391h2M538 391h2M544 391h2M550 391h2M556 391h2M562 391h2M568 391h2M574 391h2M580 391h2M586 391h2M592 391h2M598 391h2M604 391h2M610 391h2M616 391h2M622 391h2M628 391h2M634 391h2M640 391h2M646 391h2M652 391h2M658 391h2M664 391h2M670 391h2M676 391h2M682 391h2M688 391h2M694 391h2M700 391h2M706 391h2M712 391h2M718 391h2M724 391h2M730 391h2M736 391h2M742 391h2M748 391h2M754 391h2M760 391h2M766 391h2M772 391h2M778 391h2M784 391h2M790 391h2M796 391h2M802 391h2M808 391h2M814 391h2M820 391h2M826 391h2M832 391h2M838 391h2M844 391h2M850 391h2M856 391h2M862 391h2M868 391h2M874 391h2M880 391h2M886 391h2M892 391h2M898 391h2M904 391h2M910 391h2M916 391h2M922 391h2M928 391h2M934 391h2M940 391h2M946 391h2M952 391h2M958 391h2M964 391h2M970 391h2M976 391h2M982 391h2M988 391h2M994 391h2M1000 391h2M1006 391h2M1012 391h2M1018 391h2M1024 391h2M1030 391h2M1036 391h2M1042 391h2M1048 391h2M1054 391h2M1060 391h2M1066 391h2M1072 391h2M1078 391h2M1084 391h2M1090 391h2" stroke="#7e57c2" stroke-width="2" fill="none"/>
</g>
<path d="M10.0 420.2 L14.5 409.7 L21.5 410.5 L27.5 403.7 L33.5 405.1 L39.5 408.1 L46.5 398.1 L52.5 390.1 L58.5 386.1 L65.5 386.1 L71.5 384.5 L77.5 392.7 L84.5 384.1 L90.5 383.1 L96.5 382.5 L102.5 394.1 L109.5 391.1 L115.5 398.1 L121.5 402.7 L128.5 407.1 L134.5 404.1 L140.5 397.1 L147.5 406.7 L153.5 401.5 L159.5 400.7 L165.5 397.1 L172.5 384.1 L178.5 376.7 L184.5 376.5 L191.5 377.1 L197.5 386.1 L203.5 379.5 L210.5 376.1 L216.5 382.5 L222.5 371.7 L228.5 375.7 L235.5 374.1 L241.5 380.1 L247.5 386.1 L254.5 383.1 L260.5 379.5 L266.5 377.7 L273.5 376.1 L279.5 384.1 L285.5 397.1 L291.5 399.1 L298.5 392.1 L304.5 387.5 L310.5 392.1 L317.5 388.5 L323.5 386.7 L329.5 386.5 L336.5 369.0 L342.5 368.0 L348.5 361.6 L355.5 377.1 L361.5 377.7 L367.5 377.7 L373.5 377.7 L380.5 371.7 L386.5 381.1 L392.5 394.1 L399.5 396.7 L405.5 395.7 L411.5 394.1 L418.5 409.1 L424.5 400.5 L430.5 406.5 L436.5 410.7 L443.5 409.7 L449.5 414.1 L455.5 411.1 L462.5 413.5 L468.5 402.5 L474.5 400.7 L481.5 405.1 L487.5 405.7 L493.5 399.7 L499.5 409.1 L506.5 406.7 L512.5 410.7 L518.5 408.1 L525.5 403.5 L531.5 404.7 L537.5 397.5 L544.5 394.1 L550.5 393.5 L556.5 398.5 L562.5 387.7 L569.5 387.5 L575.5 386.7 L581.5 400.1 L588.5 406.5 L594.5 405.5 L600.5 405.7 L607.5 417.5 L613.5 421.2 L619.5 413.5 L625.5 411.5 L632.5 410.9 L638.5 410.9 L644.5 408.7 L651.5 414.1 L657.5 418.7 L663.5 420.2 L670.5 419.7 L676.5 405.7 L682.5 404.5 L689.5 399.5 L695.5 396.7 L701.5 395.1 L707.5 395.1 L714.5 390.1 L720.5 404.7 L726.5 398.1 L733.5 385.7 L739.5 384.1 L745.5 393.1 L752.5 389.5 L758.5 386.1 L764.5 385.7 L770.5 392.5 L777.5 389.5 L783.5 398.7 L789.5 395.1 L796.5 388.1 L802.5 377.1 L808.5 381.7 L815.5 379.1 L821.5 372.5 L827.5 370.7 L833.5 370.7 L840.5 379.7 L846.5 377.1 L852.5 382.5 L859.5 377.1 L865.5 374.7 L871.5 379.5 L878.5 376.5 L884.5 370.7 L890.5 372.7 L896.5 370.7 L903.5 380.1 L909.5 385.1 L915.5 398.7 L922.5 396.1 L928.5 406.1 L934.5 407.7 L941.5 397.5 L947.5 393.1 L953.5 381.5 L960.5 383.1 L966.5 385.5 L972.5 392.5 L978.5 381.1 L985.5 378.1 L991.5 371.1 L997.5 371.1 L1004.5 370.7 L1010.5 369.0 L1016.5 374.1 L1023.5 380.1 L1029.5 391.5" fill="none" stroke="#7e57c2" stroke-width="2" stroke-linejoin="round" stroke-linecap="round"/>
</svg>
<span class="t" style="left:16.99px;top:16px;color:#131722;transform:scaleX(0.9148);">XAG/USD, 1D</span>
<span class="t" style="left:99.19px;top:16px;color:#131722;transform:scaleX(1.0125);">O</span>
<span class="t" style="left:108.02px;top:16px;color:#F23645;transform:scaleX(0.9774);">33.59</span>
<span class="t" style="left:146.69px;top:16px;color:#131722;transform:scaleX(1.0143);">H</span>
<span class="t" style="left:154.82px;top:16px;color:#F23645;transform:scaleX(0.9806);">33.60</span>
<span class="t" style="left:193.80px;top:16px;color:#131722;transform:scaleX(0.9000);">L</span>
<span class="t" style="left:199.93px;top:16px;color:#F23645;transform:scaleX(0.9677);">32.66</span>
<span class="t" style="left:238.09px;top:16px;color:#131722;transform:scaleX(1.0143);">C</span>
<span class="t" style="left:246.55px;top:16px;color:#F23645;transform:scaleX(0.9452);">33.03</span>
<span class="t" style="left:284.95px;top:16px;color:#F23645;transform:scaleX(0.9516);">−0.56</span>
<span class="t" style="left:320.71px;top:16px;color:#F23645;transform:scaleX(0.8941);">(−1.68%)</span>
<span class="t" style="left:17.05px;top:34px;color:#131722;transform:scaleX(0.9550);">Moving</span>
<span class="t" style="left:60.90px;top:34px;color:#131722;transform:scaleX(0.9021);">Average</span>
<span class="t" style="left:109.00px;top:34px;color:#131722;transform:scaleX(1.0032);">Triple</span>
<span class="t" style="left:144.57px;top:34px;color:#131722;transform:scaleX(1.0250);">(50,</span>
<span class="t" style="left:171.54px;top:34px;color:#131722;transform:scaleX(0.9565);">100,</span>
<span class="t" style="left:198.69px;top:34px;color:#131722;transform:scaleX(1.0130);">200,</span>
<span class="t" style="left:226.93px;top:34px;color:#131722;transform:scaleX(0.9690);">Simple)</span>
<span class="t" style="left:277.12px;top:34px;color:#ff6d00;transform:scaleX(0.9774);">31.93</span>
<span class="t" style="left:316.00px;top:34px;color:#2196f3;transform:scaleX(0.9000);">31.21</span>
<span class="t" style="left:354.02px;top:34px;color:#26c6da;transform:scaleX(0.9839);">30.70</span>
<span class="t" style="left:17.98px;top:360px;color:#131722;transform:scaleX(0.8158);">RSI</span>
<span class="t" style="left:39.03px;top:360px;color:#131722;transform:scaleX(0.9714);">(14)</span>
<span class="t" style="left:68.25px;top:360px;color:#7e57c2;transform:scaleX(0.9548);">53.89</span>
<span class="t" style="left:1102.58px;top:31px;color:#131722;transform:scaleX(1.0194);">35.00</span>
<span class="t" style="left:1102.58px;top:63px;color:#131722;transform:scaleX(1.0194);">34.00</span>
<span class="t" style="left:1102.58px;top:191px;color:#131722;transform:scaleX(1.0194);">30.00</span>
<span class="t" style="left:1102.58px;top:223px;color:#131722;transform:scaleX(1.0194);">29.00</span>
<span class="t" style="left:1102.58px;top:255px;color:#131722;transform:scaleX(1.0194);">28.00</span>
<span class="t" style="left:1102.58px;top:287px;color:#131722;transform:scaleX(1.0194);">27.00</span>
<span class="t" style="left:1102.58px;top:319px;color:#131722;transform:scaleX(1.0194);">26.00</span>
<span class="t" style="left:1102.58px;top:351px;color:#131722;transform:scaleX(1.0194);">75.00</span>
<span class="t" style="left:110.38px;top:438px;color:#131722;transform:scaleX(0.9182);">Sep</span>
<span class="t" style="left:242.88px;top:438px;color:#131722;transform:scaleX(1.0211);">Oct</span>
<span class="t" style="left:387.79px;top:438px;color:#131722;transform:scaleX(0.9091);">Nov</span>
<span class="t" style="left:520.03px;top:438px;color:#131722;transform:scaleX(0.9667);">Dec</span>
<span class="t" style="left:655.40px;top:438px;color:#131722;transform:scaleX(0.9828);font-weight:700;">2025</span>
<span class="t" style="left:803.66px;top:438px;color:#131722;transform:scaleX(0.9381);">Feb</span>
<span class="t" style="left:929.18px;top:438px;color:#131722;transform:scaleX(0.9190);">Mar</span>
<span class="t" style="left:1021.30px;top:438px;color:#131722;transform:scaleX(0.9000);">21</span>
<span class="t" style="left:34.30px;top:471.0px;color:#1e222d;transform:scaleX(0.9532);font-size:14px;-webkit-text-stroke:0.45px currentColor;">TradingView</span>
<div class="bx" style="top:94px;height:19px;background:#F23645"></div>
<div class="bx" style="top:129px;height:18px;background:#ff6d00"></div>
<div class="bx" style="top:147px;height:18px;background:#2a2e39"></div>
<div class="bx" style="top:165px;height:18px;background:#2196f3"></div>
<div class="bx" style="top:183px;height:18px;background:#22c3d6"></div>
<div class="bx" style="top:266px;height:19px;background:#2a2e39"></div>
<div class="bx" style="top:382px;height:19px;background:#7e57c2"></div>
<span class="t" style="left:1103.59px;top:94px;color:#fff;transform:scaleX(1.0097);">33.03</span>
<span class="t" style="left:1103.59px;top:129px;color:#fff;transform:scaleX(1.0097);">31.93</span>
<span class="t" style="left:1103.59px;top:147px;color:#fff;transform:scaleX(1.0097);">31.76</span>
<span class="t" style="left:1103.59px;top:165px;color:#fff;transform:scaleX(1.0097);">31.21</span>
<span class="t" style="left:1103.59px;top:183px;color:#0b1a1f;transform:scaleX(1.0097);">30.70</span>
<span class="t" style="left:1103.59px;top:266px;color:#fff;transform:scaleX(1.0097);">27.63</span>
<span class="t" style="left:1103.59px;top:382px;color:#fff;transform:scaleX(1.0097);">53.89</span>
<svg width="20.4" height="10.2" viewBox="0 4 36 18" style="left:10.2px;top:475px"><path fill="#1e222d" d="M14 22H7V11H0V4h14v18zM28 22h-8l7.5-18h8L28 22z"/><circle fill="#1e222d" cx="20" cy="8" r="4"/></svg>
</body></html>
